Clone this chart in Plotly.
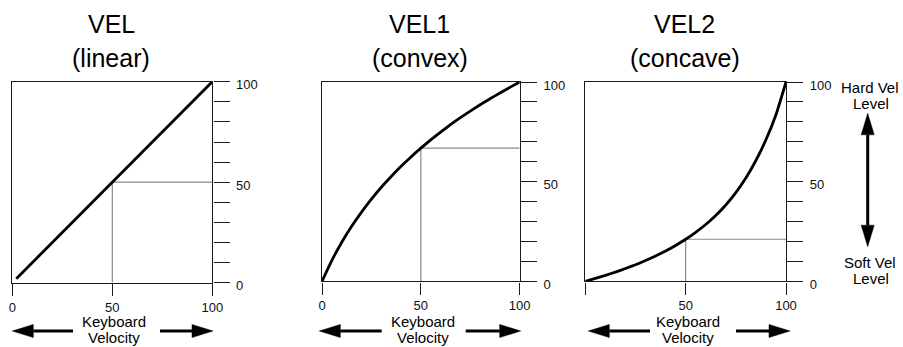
import plotly.graph_objects as go

W, H = 903, 347

# ---- data ----
vel_x = [2, 100]
vel_y = [2, 100]

curve_x = [0, 5, 10, 15, 20, 25, 30, 35, 40, 45, 50, 55, 60, 65, 70, 75, 80, 85, 90, 95, 100]
vel1_y = [0, 10.5, 19.6, 27.6, 34.7, 41.2, 47.2, 52.6, 57.7, 62.4, 66.8, 71.0, 74.9, 78.6,
          82.1, 85.4, 88.6, 91.6, 94.5, 97.3, 100]
vel2_y = [0, 1.5, 3.0, 4.6, 6.4, 8.3, 10.4, 12.7, 15.2, 18.0, 21.1, 24.6, 28.5, 33.0,
          38.3, 44.5, 51.8, 60.6, 71.0, 83.6, 100]

guide_x = [50, 50, 50]
guide_y = [50, 66.8, 21.1]

titles = ["VEL", "VEL1", "VEL2"]
subtitles = ["(linear)", "(convex)", "(concave)"]
y_tickvals = [0, 10, 20, 30, 40, 50, 60, 70, 80, 90, 100]
y_ticktext = ["0", "", "", "", "", "50", "", "", "", "", "100"]
x_tickvals = [0, 50, 100]
x_ticktext = [["0", "50", "100"], ["0", "50", "100"], ["", "50", "100"]]
x_axis_label = ["Keyboard", "Velocity"]
hard_label = ["Hard Vel", "Level"]
soft_label = ["Soft Vel", "Level"]

# ---- layout helpers (pixel -> paper) ----
def px(x):
    return x / W

def py(y):
    return 1 - y / H

panels = [  # left, right, top, bottom in pixels
    (12.3, 212.3, 81.7, 282.7),
    (322.0, 519.7, 82.0, 281.3),
    (585.3, 786.0, 82.0, 281.3),
]

curves = [(vel_x, vel_y), (curve_x, vel1_y), (curve_x, vel2_y)]

fig = go.Figure()
AX = "#1a1a1a"
TICKFONT = dict(family="Liberation Sans Narrow, Arial Narrow, Liberation Sans, Arial", size=13, color="#111")
TEXTFONT = "Liberation Sans, Arial, Helvetica, sans-serif"

layout = dict(
    width=W, height=H, margin=dict(l=0, r=0, t=0, b=0, pad=0), autosize=False,
    paper_bgcolor="white", plot_bgcolor="white", showlegend=False,
)

for i, (l, r, t, b) in enumerate(panels):
    n = "" if i == 0 else str(i + 1)
    xa, ya = "x" + n, "y" + n
    gx, gy = guide_x[i], guide_y[i]
    fig.add_trace(go.Scatter(x=[gx, gx, 100], y=[0, gy, gy], mode="lines",
                             line=dict(color="#8a8a8a", width=1.2), xaxis=xa, yaxis=ya,
                             hoverinfo="skip"))
    cx, cy = curves[i]
    fig.add_trace(go.Scatter(x=cx, y=cy, mode="lines",
                             line=dict(color="black", width=2.8, shape="spline", smoothing=0.5),
                             xaxis=xa, yaxis=ya, hoverinfo="skip"))
    layout["xaxis" + n] = dict(
        domain=[px(l), px(r)], range=[0, 100], anchor=ya,
        showline=True, mirror=True, linecolor=AX, linewidth=1.4,
        ticks="outside", ticklen=12, tickwidth=1.3, tickcolor=AX,
        tickvals=x_tickvals, ticktext=x_ticktext[i], tickfont=TICKFONT,
        showgrid=False, zeroline=False, fixedrange=True, automargin=False,
    )
    layout["yaxis" + n] = dict(
        domain=[py(b), py(t)], range=[0, 100], anchor=xa, side="right",
        showline=True, mirror=True, linecolor=AX, linewidth=1.4,
        ticks="outside", ticklen=16, tickwidth=1.3, tickcolor=AX,
        tickvals=y_tickvals, ticktext=y_ticktext, tickfont=TICKFONT,
        ticklabelshift=3, ticklabelstandoff=4,
        showgrid=False, zeroline=False, fixedrange=True, automargin=False,
    )

fig.update_layout(**layout)

annotations = []
shapes = []

def text(x, y, s, size):
    annotations.append(dict(x=px(x), y=py(y), xref="paper", yref="paper", text=s,
                            showarrow=False, xanchor="center", yanchor="middle",
                            font=dict(family=TEXTFONT, size=size, color="black")))

def harrow(tip, base_end, yy, direction):
    # direction -1: points left, +1: points right
    hl, hh = 21, 6.5
    base = tip - direction * hl
    shapes.append(dict(type="line", xref="paper", yref="paper",
                       x0=px(base), x1=px(base_end), y0=py(yy), y1=py(yy),
                       line=dict(color="black", width=3)))
    path = "M {},{} L {},{} L {},{} Z".format(px(tip), py(yy), px(base), py(yy - hh),
                                             px(base), py(yy + hh))
    shapes.append(dict(type="path", xref="paper", yref="paper", path=path,
                       fillcolor="black", line=dict(color="black", width=0.5)))

def varrow(xx, tip, base_end, direction):
    # direction -1: points up, +1: points down
    hl, hh = 21.5, 6.5
    base = tip - direction * hl
    shapes.append(dict(type="line", xref="paper", yref="paper",
                       x0=px(xx), x1=px(xx), y0=py(base), y1=py(base_end),
                       line=dict(color="black", width=3)))
    path = "M {},{} L {},{} L {},{} Z".format(px(xx), py(tip), px(xx - hh), py(base),
                                             px(xx + hh), py(base))
    shapes.append(dict(type="path", xref="paper", yref="paper", path=path,
                       fillcolor="black", line=dict(color="black", width=0.5)))

arrow_px = [  # left tip, left shaft end, right shaft start, right tip
    (12.3, 73.0, 160.0, 213.0),
    (319.3, 381.7, 465.7, 520.7),
    (588.3, 650.0, 736.0, 790.0),
]

for i, (l, r, t, b) in enumerate(panels):
    cxp = (l + r) / 2
    text(cxp - 1, 24, titles[i], 25)
    text(cxp - 1, 57.5, subtitles[i], 25)
    text(cxp + 2, 321, x_axis_label[0], 15)
    text(cxp + 2, 337.6, x_axis_label[1], 15)
    lt, le, rs, rt = arrow_px[i]
    harrow(lt, le, 331, -1)
    harrow(rt, rs, 331, 1)

text(870, 87.5, hard_label[0], 15)
text(871, 104, hard_label[1], 15)
text(870, 262, soft_label[0], 15)
text(871, 278.5, soft_label[1], 15)
varrow(867.7, 113.3, 180, -1)
varrow(867.7, 246.7, 180, 1)

fig.update_layout(annotations=annotations, shapes=shapes)
fig.write_html(
    "out.html",
    config={"responsive": False, "displayModeBar": False},
    post_script="document.body.style.margin='0';document.body.style.overflow='hidden';",
)
